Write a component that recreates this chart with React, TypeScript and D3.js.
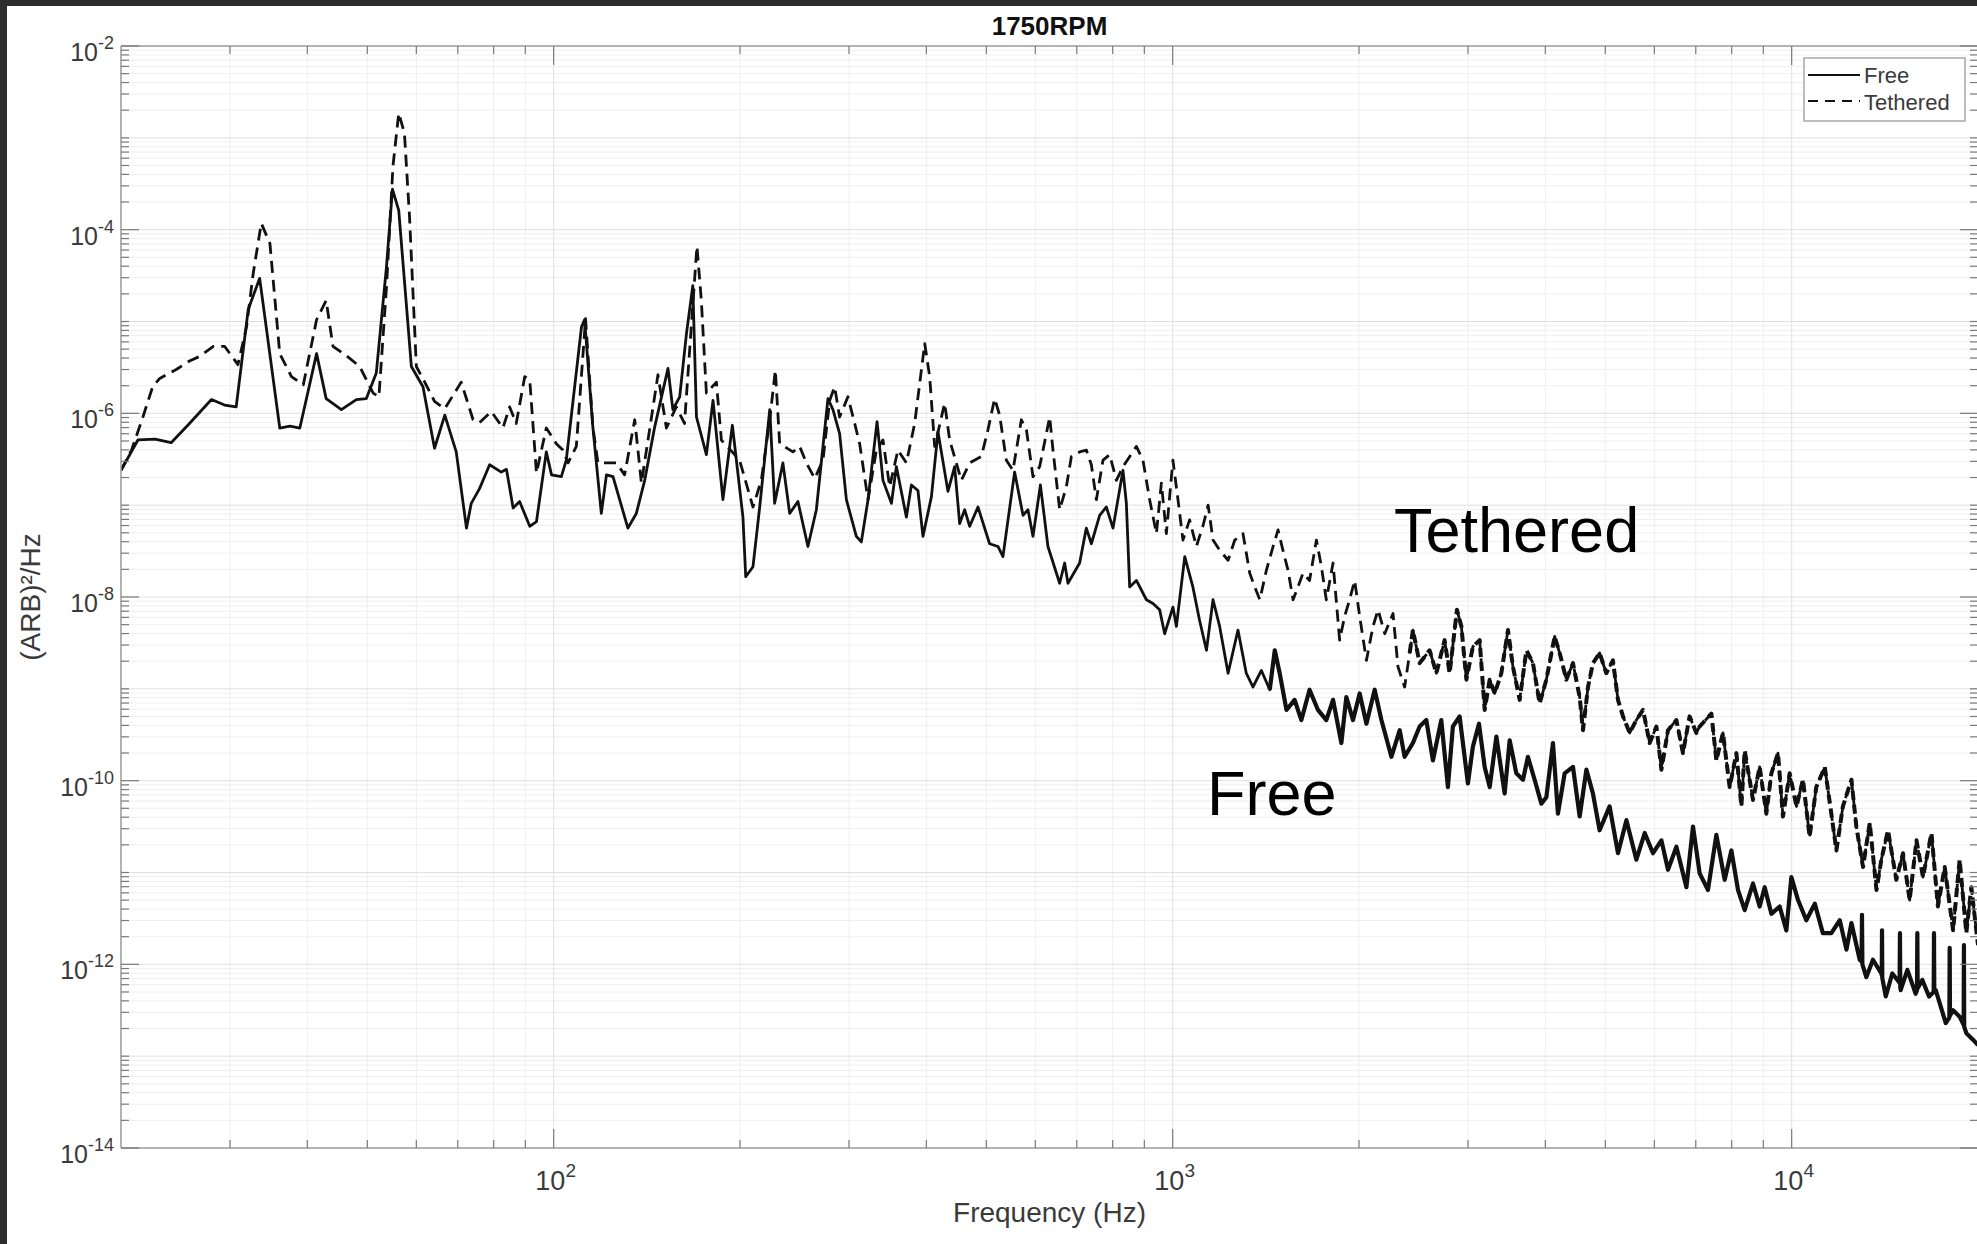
import React from "react";
import * as d3 from "d3";

type Pt = [number, number]; // [frequency (Hz), log10 PSD ((ARB)^2/Hz)]

// ---- Free (solid) ----
const freeLow: Pt[] = [
  [20, -6.62], [21.3, -6.29], [22.7, -6.28], [24.1, -6.32], [25.8, -6.11], [28.0, -5.85], [29.4, -5.91],
  [30.7, -5.93], [32.1, -4.87], [33.5, -4.53], [36.1, -6.16], [37.5, -6.14], [38.9, -6.16], [41.4, -5.35],
  [42.9, -5.84], [45.4, -5.96], [48.0, -5.85], [49.8, -5.84], [51.7, -5.56], [53.7, -4.4], [54.9, -3.56],
  [56.2, -3.79], [58.9, -5.49], [61.5, -5.71], [64.2, -6.38], [66.7, -6.02], [69.6, -6.42], [72.3, -7.25],
  [73.6, -6.98], [75.9, -6.82], [78.8, -6.56], [82.3, -6.64], [83.9, -6.61], [86.0, -7.03], [88.1, -6.96],
  [91.5, -7.23], [93.8, -7.18], [97.3, -6.42], [99.2, -6.67],
];
const freeMid: Pt[] = [
  [102.9, -6.69], [104.8, -6.51], [110.9, -5.06], [112.2, -4.98], [115.7, -6.15], [119.4, -7.09], [121.7, -6.67],
  [124.7, -6.69], [131.8, -7.25], [136.0, -7.09], [140.3, -6.73], [145.6, -6.15], [153.0, -5.51], [155.8, -5.96],
  [159.8, -5.82], [163.9, -5.13], [167.8, -4.61], [170.1, -6.04], [176.5, -6.45], [180.9, -5.86], [187.7, -6.94],
  [194.4, -6.13], [202.2, -7.13], [204.3, -7.78], [209.9, -7.67], [215.2, -7.02], [223.4, -5.96], [227.5, -6.98],
  [234.6, -6.54], [240.6, -7.09], [248.1, -6.96], [257.5, -7.45], [265.7, -7.05], [277.4, -5.84], [282.6, -5.96],
  [289.7, -6.22], [297.1, -6.94], [308.3, -7.34], [314.1, -7.4], [322.0, -6.94], [333.0, -6.09], [340.4, -6.73],
  [351.3, -6.98], [357.8, -6.58], [371.4, -7.13], [378.4, -6.78], [387.7, -6.84], [395.0, -7.34], [407.6, -6.91],
  [417.7, -6.2], [433.5, -6.85], [444.4, -6.58], [452.8, -7.2], [461.3, -7.05], [470.0, -7.23], [484.7, -7.02],
  [506.1, -7.42], [522.1, -7.45], [531.9, -7.56], [555.5, -6.64], [573.1, -7.11], [583.8, -7.05], [594.8, -7.34],
  [611.4, -6.78], [628.8, -7.45], [656.8, -7.85], [669.1, -7.63], [677.4, -7.85], [707.5, -7.63], [725.3, -7.25],
  [739.0, -7.42], [762.2, -7.11], [781.4, -7.02], [801.0, -7.25], [831.3, -6.62], [841.8, -6.98], [852.2, -7.89],
  [873.8, -7.82], [907.0, -8.03], [929.4, -8.07], [952.8, -8.14], [970.7, -8.4],
];
const freeHigh: Pt[] = [
  [1001, -8.11], [1014, -8.32], [1046, -7.56], [1078, -7.89], [1105, -8.25], [1134, -8.58], [1162, -8.03],
  [1191, -8.32], [1229, -8.83], [1275, -8.36], [1315, -8.83], [1348, -8.98], [1391, -8.8], [1435, -9.01],
  [1462, -8.58], [1489, -8.83], [1527, -9.23], [1574, -9.12], [1614, -9.34], [1664, -9.01], [1717, -9.23],
  [1771, -9.34], [1816, -9.12], [1873, -9.59], [1908, -9.09], [1956, -9.34], [2005, -9.05], [2056, -9.38],
  [2120, -9.01], [2174, -9.34], [2256, -9.74], [2327, -9.45], [2370, -9.74], [2444, -9.59], [2506, -9.41],
  [2569, -9.34], [2633, -9.78], [2716, -9.34], [2784, -10.07], [2836, -9.41], [2908, -9.3], [2999, -10.03],
  [3055, -9.63], [3125, -9.38], [3192, -9.85], [3252, -10.07], [3334, -9.52], [3438, -10.14], [3503, -9.56],
  [3591, -9.92], [3681, -9.99], [3749, -9.74], [3844, -9.99], [3941, -10.25], [4015, -10.18], [4115, -9.59],
  [4192, -10.36], [4298, -9.92], [4433, -9.85], [4545, -10.39], [4660, -9.88], [4775, -10.14], [4895, -10.54],
  [5080, -10.28], [5241, -10.79], [5408, -10.43], [5612, -10.86], [5789, -10.57], [5970, -10.79], [6160, -10.65],
  [6313, -10.97], [6513, -10.72], [6760, -11.16], [6928, -10.5], [7102, -11.01], [7325, -11.19], [7557, -10.59],
  [7795, -11.08], [7991, -10.76], [8190, -11.19], [8397, -11.41], [8660, -11.12], [8878, -11.37], [9045, -11.16],
  [9273, -11.45], [9563, -11.37], [9804, -11.63], [9989, -11.05], [10240, -11.3], [10560, -11.52], [10900, -11.34],
  [11230, -11.66], [11590, -11.66], [11960, -11.52], [12260, -11.84], [12490, -11.55], [12880, -11.95],
  [12970, -11.97], [12990, -11.46], [13010, -12.0], [13200, -12.14], [13530, -11.95], [13960, -12.1],
  [13980, -12.12], [13995, -11.63], [14010, -12.15], [14190, -12.35], [14540, -12.1], [14940, -12.2],
  [14960, -11.66], [14980, -12.25], [15000, -12.28], [15380, -12.06], [15860, -12.32], [15940, -12.28],
  [15960, -11.66], [15980, -12.26], [16260, -12.17], [16670, -12.35], [16960, -12.3], [16980, -11.66],
  [17000, -12.3], [17090, -12.28], [17740, -12.64], [17980, -12.58], [18000, -11.82], [18020, -12.56],
  [18230, -12.5], [18680, -12.57], [18960, -12.66], [18980, -11.79], [19000, -12.68], [19150, -12.75],
  [19630, -12.82], [20000, -12.88],
];

// ---- Tethered (dashed) ----
const tetheredLow: Pt[] = [
  [20, -6.62], [20.8, -6.4], [21.7, -6.04], [22.5, -5.71], [23.1, -5.62], [24.6, -5.52], [25.8, -5.43],
  [26.8, -5.38], [28.2, -5.27], [29.4, -5.27], [30.9, -5.47], [31.9, -5.06], [32.7, -4.48], [33.7, -3.93],
  [34.8, -4.15], [36.1, -5.35], [37.7, -5.6], [39.4, -5.69], [41.4, -4.98], [42.9, -4.77], [44.0, -5.27],
  [46.2, -5.37], [48.6, -5.49], [51.1, -5.78], [52.2, -5.82], [53.7, -4.62], [55.0, -3.31], [56.2, -2.73],
  [57.4, -2.95], [58.5, -3.86], [60.0, -5.49], [61.9, -5.66], [64.2, -5.87], [66.7, -5.95], [70.9, -5.66],
  [74.1, -6.07], [75.9, -6.1], [79.3, -5.98], [82.8, -6.16], [84.9, -5.93], [87.0, -6.11], [89.8, -5.6],
  [91.5, -5.64], [93.8, -6.65], [97.3, -6.16],
];
const tetheredMid: Pt[] = [
  [101.0, -6.33], [103.5, -6.4], [105.5, -6.54], [108.8, -6.36], [112.6, -4.97], [115.7, -6.15], [117.9, -6.54],
  [126.3, -6.54], [130.2, -6.67], [135.2, -6.07], [138.6, -6.76], [147.4, -5.58], [152.1, -6.16], [157.8, -5.93],
  [162.7, -6.11], [170.4, -4.18], [173.2, -4.77], [176.5, -5.78], [183.2, -5.66], [186.6, -6.29], [199.7, -6.51],
  [209.9, -7.02], [216.5, -6.73], [223.4, -6.07], [228.1, -5.53], [231.8, -6.33], [243.5, -6.42], [249.7, -6.36],
  [256.0, -6.54], [264.1, -6.71], [272.3, -6.51], [279.2, -5.86], [284.4, -5.71], [289.7, -6.04], [298.8, -5.82],
  [306.4, -6.11], [312.1, -6.33], [322.0, -6.94], [332.2, -6.4], [340.4, -6.29], [349.0, -6.8], [359.9, -6.4],
  [371.4, -6.54], [383.0, -6.11], [397.6, -5.24], [405.0, -5.6], [412.6, -6.36], [428.2, -5.89], [436.2, -6.29],
  [455.6, -6.73], [470.0, -6.54], [490.9, -6.47], [503.0, -6.18], [515.7, -5.84], [525.4, -6.02], [538.6, -6.51],
  [552.1, -6.62], [569.6, -6.07], [580.4, -6.18], [594.8, -6.69], [609.8, -6.58], [632.9, -6.04], [640.7, -6.4],
  [656.8, -7.05], [673.4, -6.8], [686.1, -6.47], [707.5, -6.42], [725.3, -6.4], [739.0, -6.56], [752.9, -6.94],
  [771.7, -6.51], [791.2, -6.45], [811.1, -6.73], [831.3, -6.58], [873.8, -6.36], [895.4, -6.51], [918.0, -6.94],
  [941.3, -7.31], [958.9, -6.76], [976.8, -7.31],
];
const tetheredHigh: Pt[] = [
  [1001, -6.51], [1020, -6.94], [1039, -7.38], [1065, -7.16], [1092, -7.45], [1119, -7.23], [1141, -7.0],
  [1162, -7.38], [1191, -7.49], [1229, -7.6], [1260, -7.38], [1299, -7.31], [1332, -7.74], [1357, -7.89],
  [1383, -8.03], [1417, -7.71], [1453, -7.45], [1480, -7.27], [1507, -7.49], [1536, -7.71], [1565, -8.03],
  [1594, -7.89], [1624, -7.74], [1664, -7.82], [1707, -7.38], [1739, -7.67], [1771, -8.03], [1816, -7.63],
  [1861, -8.47], [1896, -8.21], [1931, -8.03], [1968, -7.82], [2005, -8.21], [2056, -8.69], [2107, -8.32],
  [2147, -8.14], [2201, -8.4], [2270, -8.18], [2312, -8.76], [2370, -8.98], [2415, -8.61], [2444, -8.36],
  [2506, -8.72], [2601, -8.58], [2667, -8.83], [2750, -8.47], [2802, -8.83], [2879, -8.14], [2927, -8.32],
  [2982, -8.9], [3055, -8.54], [3133, -8.47], [3192, -9.23], [3252, -8.9], [3313, -9.05], [3396, -8.83],
  [3481, -8.36], [3546, -8.76], [3636, -9.12], [3728, -8.58], [3820, -8.72], [3916, -9.16], [4015, -8.9],
  [4141, -8.43], [4219, -8.61], [4325, -8.9], [4433, -8.72], [4545, -9.09], [4601, -9.45], [4688, -8.98],
  [4775, -8.72], [4895, -8.61], [5018, -8.83], [5143, -8.69], [5241, -9.12], [5340, -9.3], [5474, -9.48],
  [5612, -9.34], [5753, -9.23], [5897, -9.59], [6046, -9.41], [6160, -9.88], [6313, -9.45], [6513, -9.34],
  [6674, -9.7], [6841, -9.3], [7016, -9.48], [7102, -9.41], [7419, -9.27], [7557, -9.78], [7745, -9.48],
  [7940, -10.07], [8142, -9.7], [8294, -10.28], [8397, -9.67], [8660, -10.21], [8878, -9.85], [9101, -10.36],
  [9273, -9.92], [9504, -9.7], [9681, -10.39], [9926, -9.92], [10180, -10.28], [10430, -9.99], [10690, -10.61],
  [10960, -10.07], [11310, -9.85], [11590, -10.36], [11810, -10.76], [12100, -10.28], [12490, -9.99],
  [12720, -10.5], [13040, -10.94], [13370, -10.46], [13710, -11.19], [13960, -10.86], [14310, -10.54],
  [14760, -11.08], [15130, -10.79], [15510, -11.3], [15910, -10.65], [16300, -11.05], [16820, -10.57],
  [17230, -11.37], [17670, -10.94], [18230, -11.63], [18680, -10.86], [19150, -11.66], [19510, -11.16],
  [20000, -11.79],
];

const xTickExps = [2, 3, 4];
const yTickExps = [-2, -4, -6, -8, -10, -12, -14];
const seriesNames = ["Free", "Tethered"];

const W = 1977;
const H = 1244;
const left = 121;
const right = 1978;
const top = 46;
const bottom = 1148;
const font = "'Liberation Sans', Arial, Helvetica, sans-serif";
const DASH = "12 7";

export default function App() {
  const x = d3.scaleLog().domain([20, 20000]).range([left, right]);
  const y = d3.scaleLog().domain([1e-14, 1e-2]).range([bottom, top]);
  const line = d3
    .line<Pt>()
    .x((d) => x(d[0]))
    .y((d) => y(Math.pow(10, d[1])));

  const free = [...freeLow, ...freeMid, ...freeHigh];
  const tethered = [...tetheredLow, ...tetheredMid, ...tetheredHigh];
  // the dense high-frequency part of the spectra reads as a thicker band
  const freeDense = freeHigh.filter((d) => d[0] >= 1400);
  const tetheredDense = tetheredHigh.filter((d) => d[0] >= 2400);

  // minor positions
  const xMinor: number[] = [];
  [10, 100, 1000, 10000].forEach((dec) => {
    for (let m = 2; m <= 9; m++) {
      const v = m * dec;
      if (v > 20 && v < 20000) xMinor.push(v);
    }
  });
  const xMajor = xTickExps.map((e) => Math.pow(10, e));

  const yMinor: number[] = [];
  for (let e = -14; e < -2; e++) {
    for (let m = 2; m <= 9; m++) yMinor.push(m * Math.pow(10, e));
  }
  const yDecades: number[] = [];
  for (let e = -13; e <= -3; e++) yDecades.push(e);

  const gridMinor = "#efefef";
  const gridMajor = "#e0e0e0";
  const axisCol = "#9a9a9a";
  const tickCol = "#7a7a7a";
  const textCol = "#3a3a3a";

  return (
    <svg
      width={W}
      height={H}
      style={{ position: "absolute", left: 0, top: 0, background: "#fff" }}
    >
      <defs>
        <clipPath id="plot-clip">
          <rect x={left} y={top} width={right - left} height={bottom - top} />
        </clipPath>
      </defs>
      <rect x={0} y={0} width={W} height={H} fill="#fff" />

      {/* grid */}
      <g strokeWidth={1}>
        {xMinor.map((v) => (
          <line key={"gx" + v} x1={x(v)} x2={x(v)} y1={top} y2={bottom} stroke={gridMinor} />
        ))}
        {yMinor.map((v, i) => (
          <line key={"gy" + i} x1={left} x2={right} y1={y(v)} y2={y(v)} stroke={gridMinor} />
        ))}
        {xMajor.map((v) => (
          <line key={"gX" + v} x1={x(v)} x2={x(v)} y1={top} y2={bottom} stroke={gridMajor} />
        ))}
        {yDecades.map((e) => (
          <line
            key={"gY" + e}
            x1={left}
            x2={right}
            y1={y(Math.pow(10, e))}
            y2={y(Math.pow(10, e))}
            stroke={gridMajor}
          />
        ))}
      </g>

      {/* series */}
      <g clipPath="url(#plot-clip)" fill="none" stroke="#111" strokeLinejoin="round">
        <path d={line(tethered) || ""} strokeWidth={2.8} strokeDasharray={DASH} />
        <path d={line(tetheredDense) || ""} strokeWidth={4} strokeDasharray="9 5" />
        <path d={line(free) || ""} strokeWidth={2.8} />
        <path d={line(freeDense) || ""} strokeWidth={4.2} />
      </g>

      {/* axes box */}
      <g stroke={axisCol} strokeWidth={1.5} fill="none">
        <line x1={left} x2={right} y1={bottom} y2={bottom} />
        <line x1={left} x2={right} y1={top} y2={top} />
        <line x1={left} x2={left} y1={top} y2={bottom} />
        <line x1={right} x2={right} y1={top} y2={bottom} />
      </g>

      {/* ticks */}
      <g stroke={tickCol} strokeWidth={1.2}>
        {xMinor.map((v) => (
          <g key={"tx" + v}>
            <line x1={x(v)} x2={x(v)} y1={bottom} y2={bottom - 8} />
            <line x1={x(v)} x2={x(v)} y1={top} y2={top + 8} />
          </g>
        ))}
        {xMajor.map((v) => (
          <g key={"tX" + v}>
            <line x1={x(v)} x2={x(v)} y1={bottom} y2={bottom - 19} />
            <line x1={x(v)} x2={x(v)} y1={top} y2={top + 19} />
          </g>
        ))}
        {yMinor.concat(yDecades.filter((e) => e % 2 !== 0).map((e) => Math.pow(10, e))).map((v, i) => (
          <g key={"ty" + i}>
            <line x1={left} x2={left + 8} y1={y(v)} y2={y(v)} />
            <line x1={right} x2={right - 8} y1={y(v)} y2={y(v)} />
          </g>
        ))}
        {yTickExps.map((e) => (
          <g key={"tY" + e}>
            <line x1={left} x2={left + 18} y1={y(Math.pow(10, e))} y2={y(Math.pow(10, e))} />
            <line x1={right} x2={right - 18} y1={y(Math.pow(10, e))} y2={y(Math.pow(10, e))} />
          </g>
        ))}
      </g>

      {/* tick labels */}
      <g fontFamily={font} fill={textCol}>
        {yTickExps.map((e) => (
          <text key={"ly" + e} x={114} y={y(Math.pow(10, e)) + 15} textAnchor="end" fontSize={25}>
            <tspan>10</tspan>
            <tspan dy={-12} fontSize={18}>
              {String(e)}
            </tspan>
          </text>
        ))}
        {xTickExps.map((e) => (
          <text key={"lx" + e} x={x(Math.pow(10, e)) + 2} y={1190} textAnchor="middle" fontSize={27}>
            <tspan>10</tspan>
            <tspan dy={-13} fontSize={19}>
              {String(e)}
            </tspan>
          </text>
        ))}
      </g>

      {/* axis labels and title */}
      <g fontFamily={font} fill={textCol}>
        <text x={(left + right) / 2} y={1222} textAnchor="middle" fontSize={28}>
          Frequency (Hz)
        </text>
        <text
          transform={`translate(40, ${(top + bottom) / 2}) rotate(-90)`}
          textAnchor="middle"
          fontSize={28}
        >
          (ARB)²/Hz
        </text>
        <text x={(left + right) / 2} y={35} textAnchor="middle" fontSize={26} fontWeight="bold" fill="#111">
          1750RPM
        </text>
      </g>

      {/* annotations */}
      <g fontFamily={font} fill="#000" fontSize={63}>
        <text x={1394} y={552}>Tethered</text>
        <text x={1207} y={815}>Free</text>
      </g>

      {/* legend */}
      <g fontFamily={font}>
        <rect x={1804} y={58} width={161} height={63} fill="#fff" stroke="#a8a8a8" strokeWidth={1.5} />
        <line x1={1808} x2={1860} y1={75} y2={75} stroke="#111" strokeWidth={2.2} />
        <line x1={1808} x2={1860} y1={101} y2={101} stroke="#111" strokeWidth={2.2} strokeDasharray="10 7" />
        <text x={1864} y={83} fontSize={22} fill={textCol}>
          {seriesNames[0]}
        </text>
        <text x={1864} y={110} fontSize={22} fill={textCol}>
          {seriesNames[1]}
        </text>
      </g>

      {/* dark frame edges */}
      <rect x={0} y={0} width={W} height={6} fill="#2d2d2d" />
      <rect x={0} y={0} width={7} height={H} fill="#2d2d2d" />
    </svg>
  );
}
